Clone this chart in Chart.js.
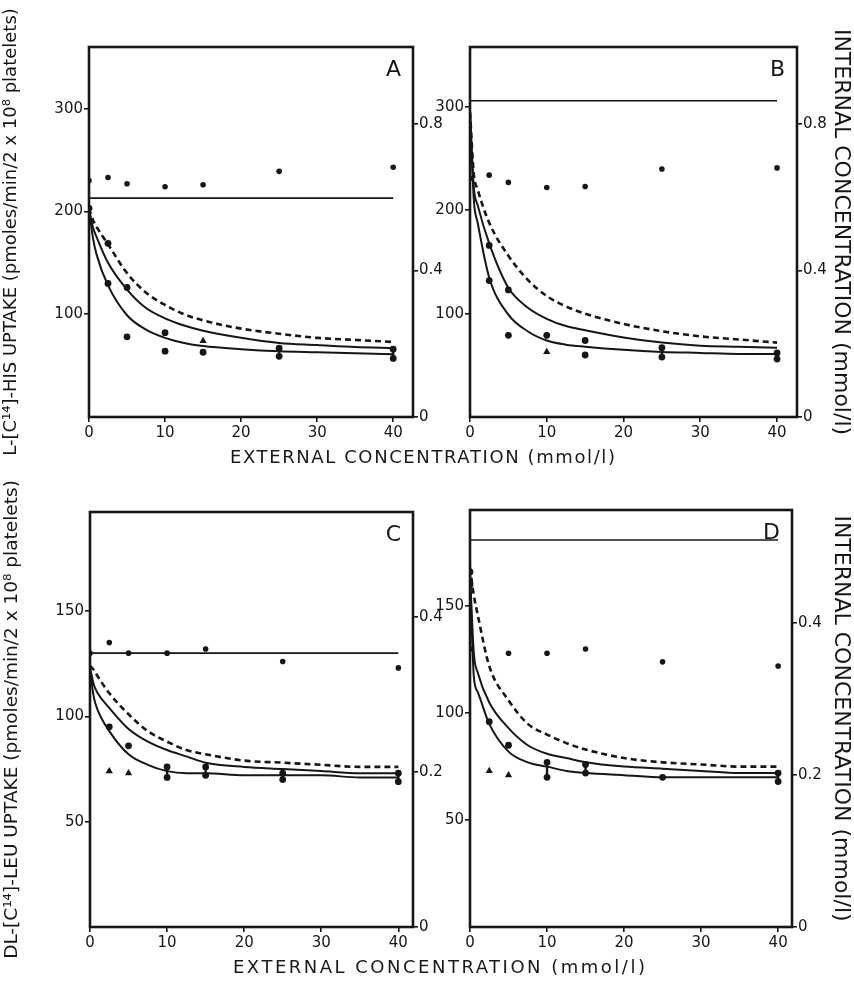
<!DOCTYPE html>
<html><head><meta charset="utf-8">
<script src="https://cdn.jsdelivr.net/npm/chart.js@4.4.0/dist/chart.umd.min.js"></script>
<style>
html,body{margin:0;padding:0;background:#fff;}
body{width:854px;height:998px;position:relative;overflow:hidden;font-family:"DejaVu Sans",sans-serif;}
canvas{position:absolute;}
.xt{position:absolute;font-family:"DejaVu Sans",sans-serif;font-size:18px;color:#1a1a1a;white-space:nowrap;}
</style></head><body>
<canvas id="cA" width="460" height="470" style="left:0;top:0"></canvas>
<canvas id="cB" width="424" height="470" style="left:430px;top:0"></canvas>
<canvas id="cC" width="460" height="518" style="left:0;top:480px"></canvas>
<canvas id="cD" width="424" height="518" style="left:430px;top:480px"></canvas>
<div class="xt" id="xtTop" style="left:230px;top:446px;letter-spacing:1.6px">EXTERNAL CONCENTRATION (mmol/l)</div>
<div class="xt" id="xtBot" style="left:233px;top:956px;letter-spacing:2.5px">EXTERNAL CONCENTRATION (mmol/l)</div>
<script>
// ---------- data ----------
const curveX = [0, 0.5, 1, 2.5, 5, 7.5, 10, 12.5, 15, 20, 25, 30, 35, 40];
const xTicks = [0, 10, 20, 30, 40];
const lineX = [0, 40];

// Panel A: L-[14C]-HIS
const yTicksA = [100, 200, 300];
const y1TicksA = [0, 0.4, 0.8];
const hLineA = 213;
const upperAX = [0, 2.5, 5, 10, 15, 25, 40];
const upperAY = [230, 233, 227, 224, 226, 239, 243];
const dashA = [203, 192, 185, 168, 140, 121, 109, 100, 94, 86, 81, 77, 75, 73];
const midA  = [203, 185, 175, 150, 124, 106, 96, 89, 84, 77, 72, 70, 68, 67];
const lowA  = [203, 175, 158, 128, 99, 85, 77, 72, 69, 66, 64, 63, 62, 61];
const dotsAX = [0, 2.5, 2.5, 5, 5, 10, 10, 15, 25, 25, 40, 40];
const dotsAY = [203, 169, 130, 126, 78, 82, 64, 63, 67, 59, 66, 57];
const triAX = [15];
const triAY = [74];
const barsA = [[25, 59, 67], [40, 57, 66]];

// Panel B
const yTicksB = [100, 200, 300];
const y1TicksB = [0, 0.4, 0.8];
const hLineB = 306;
const upperBX = [0, 2.5, 5, 10, 15, 25, 40];
const upperBY = [231, 234, 227, 222, 223, 240, 241];
const dashB = [295, 235, 220, 188, 156, 133, 117, 107, 100, 90, 83, 78, 75, 72];
const midB  = [295, 222, 205, 168, 125, 106, 95, 88, 84, 77, 72, 69, 68, 67];
const lowB  = [295, 210, 188, 135, 99, 83, 74, 70, 68, 65, 63, 62, 61, 61];
const dotsBX = [2.5, 2.5, 5, 5, 10, 15, 15, 25, 25, 40, 40];
const dotsBY = [166, 132, 123, 79, 79, 74, 60, 67, 58, 62, 56];
const triBX = [10];
const triBY = [63];
const barsB = [[10, 76, 82], [25, 58, 67], [40, 56, 62]];

// Panel C: DL-[14C]-LEU
const yTicksC = [50, 100, 150];
const y1TicksC = [0, 0.2, 0.4];
const hLineC = 130;
const upperCX = [0, 2.5, 5, 10, 15, 25, 40];
const upperCY = [130, 135, 130, 130, 132, 126, 123];
const dashC = [124, 122, 119, 111, 101, 93, 88, 84, 82, 79, 78, 77, 76, 76];
const midC  = [123, 115, 111, 104, 94, 88, 84, 81, 78, 76, 75, 74, 73, 73];
const lowC  = [122, 109, 103, 93, 82, 77, 74, 73, 73, 72, 72, 72, 71, 71];
const dotsCX = [2.5, 5, 10, 10, 15, 15, 25, 25, 40, 40];
const dotsCY = [95, 86, 76, 71, 76, 72, 73, 70, 73, 69];
const triCX = [2.5, 5];
const triCY = [74, 73];
const barsC = [[10, 70, 77], [15, 71, 76], [25, 69, 73], [40, 68, 73]];

// Panel D
const yTicksD = [50, 100, 150];
const y1TicksD = [0, 0.2, 0.4];
const hLineD = 181;
const upperDX = [0, 5, 10, 15, 25, 40];
const upperDY = [130, 128, 128, 130, 124, 122];
const dashD = [168, 155, 146, 122, 106, 95, 90, 86, 83, 79, 77, 76, 75, 75];
const midD  = [165, 128, 119, 105, 93, 85, 81, 79, 77, 75, 74, 73, 72, 72];
const lowD  = [165, 117, 110, 95, 82, 77, 75, 73, 72, 71, 70, 70, 70, 70];
const dotsDX = [0, 0, 2.5, 5, 10, 10, 15, 15, 25, 40, 40];
const dotsDY = [166, 160, 96, 85, 77, 70, 76, 72, 70, 72, 68];
const triDX = [2.5, 5];
const triDY = [73, 71];
const barsD = [[10, 70, 77], [15, 72, 77], [40, 68, 72]];

const titleHis = 'L-[C¹⁴]-HIS UPTAKE (pmoles/min/2 x 10⁸ platelets)';
const titleLeu = 'DL-[C¹⁴]-LEU UPTAKE (pmoles/min/2 x 10⁸ platelets)';
const titleInt = 'INTERNAL CONCENTRATION (mmol/l)';

// ---------- drawing ----------
const INK = '#161616';
const FONT = '"DejaVu Sans", sans-serif';

const boxPlugin = {
  id: 'box',
  afterDraw(chart, args, opts) {
    const { ctx, chartArea: a } = chart;
    ctx.save();
    ctx.lineWidth = 2.6;
    ctx.strokeStyle = INK;
    ctx.strokeRect(a.left, a.top, a.right - a.left, a.bottom - a.top);
    ctx.font = '22px ' + FONT;
    ctx.fillStyle = INK;
    ctx.textAlign = 'right';
    ctx.textBaseline = 'top';
    ctx.fillText(opts.letter, a.right - opts.lx, a.top + opts.ly);
    ctx.restore();
  }
};

function pts(xs, ys) { return xs.map((x, i) => ({ x: x, y: ys[i] })); }

function panel(p) {
  const ds = [];
  ds.push({ data: pts(lineX, [p.hLine, p.hLine]), borderColor: INK, borderWidth: 1.6, pointRadius: 0, showLine: true });
  ds.push({ data: pts(curveX, p.dash), borderColor: INK, borderWidth: 2.6, borderDash: [6, 4], pointRadius: 0, showLine: true, cubicInterpolationMode: 'monotone' });
  ds.push({ data: pts(curveX, p.mid), borderColor: INK, borderWidth: 2, pointRadius: 0, showLine: true, cubicInterpolationMode: 'monotone' });
  ds.push({ data: pts(curveX, p.low), borderColor: INK, borderWidth: 2, pointRadius: 0, showLine: true, cubicInterpolationMode: 'monotone' });
  ds.push({ data: pts(p.upX, p.upY), showLine: false, pointRadius: 2.8, pointBackgroundColor: INK, pointBorderColor: INK, pointBorderWidth: 0 });
  ds.push({ data: pts(p.dX, p.dY), showLine: false, pointRadius: 3.4, pointBackgroundColor: INK, pointBorderColor: INK, pointBorderWidth: 0 });
  ds.push({ data: pts(p.tX, p.tY), showLine: false, pointStyle: 'triangle', pointRadius: 4.2, pointBackgroundColor: INK, pointBorderColor: INK, pointBorderWidth: 0 });
  p.bars.forEach(b => {
    ds.push({ data: [{ x: b[0], y: b[1] }, { x: b[0], y: b[2] }], borderColor: INK, borderWidth: 2.4, pointRadius: 0, showLine: true });
  });
  const tickFont = { family: FONT, size: 15 };
  const gridOpt = { display: true, drawOnChartArea: false, drawTicks: true, tickLength: 5, color: INK, lineWidth: 1.6 };
  new Chart(document.getElementById(p.id), {
    type: 'line',
    data: { datasets: ds },
    options: {
      responsive: false,
      animation: false,
      events: [],
      layout: { padding: { top: p.padT, left: 0, right: 0, bottom: 0 } },
      plugins: { legend: { display: false }, tooltip: { enabled: false }, box: { letter: p.letter, lx: p.lx, ly: p.ly } },
      scales: {
        x: {
          type: 'linear', min: 0, max: p.xMax,
          afterBuildTicks: s => { s.ticks = xTicks.map(v => ({ value: v })); },
          afterFit: s => { s.height = p.xH; },
          ticks: { color: INK, font: tickFont, padding: 2, maxRotation: 0, autoSkip: false },
          grid: gridOpt, border: { display: false }
        },
        y: {
          type: 'linear', position: 'left', min: 0, max: p.yMax,
          afterBuildTicks: s => { s.ticks = p.yTicks.map(v => ({ value: v })); },
          afterFit: s => { s.width = p.yW; },
          ticks: { color: INK, font: tickFont, padding: 1 },
          grid: gridOpt, border: { display: false },
          title: { display: !!p.yTitle, text: p.yTitle || '', color: INK, font: { family: FONT, size: p.yTitleSize || 18 }, padding: { top: 1, bottom: 0 } }
        },
        y1: {
          type: 'linear', position: 'right', min: 0, max: p.y1Max,
          afterBuildTicks: s => { s.ticks = p.y1Ticks.map(v => ({ value: v })); },
          afterFit: s => { s.width = p.y1W; },
          ticks: { color: INK, font: tickFont, padding: 1, callback: v => String(v) },
          grid: gridOpt, border: { display: false },
          title: { display: !!p.y1Title, text: p.y1Title || '', color: INK, font: { family: FONT, size: 22 }, padding: { top: 0, bottom: 0 } }
        }
      }
    },
    plugins: [boxPlugin]
  });
}

panel({ id: 'cA', letter: 'A', lx: 12, ly: 12, padT: 47, yW: 89, y1W: 47, xH: 53, xMax: 42.6, yMax: 360, y1Max: 1.01,
  yTicks: yTicksA, y1Ticks: y1TicksA, yTitle: titleHis, y1Title: null, yTitleSize: 18,
  hLine: hLineA, dash: dashA, mid: midA, low: lowA, upX: upperAX, upY: upperAY, dX: dotsAX, dY: dotsAY, tX: triAX, tY: triAY, bars: barsA });
panel({ id: 'cB', letter: 'B', lx: 12, ly: 12, padT: 47, yW: 40, y1W: 57, xH: 53, xMax: 42.6, yMax: 358, y1Max: 1.01,
  yTicks: yTicksB, y1Ticks: y1TicksB, yTitle: null, y1Title: titleInt,
  hLine: hLineB, dash: dashB, mid: midB, low: lowB, upX: upperBX, upY: upperBY, dX: dotsBX, dY: dotsBY, tX: triBX, tY: triBY, bars: barsB });
panel({ id: 'cC', letter: 'C', lx: 12, ly: 12, padT: 32, yW: 90, y1W: 47, xH: 71, xMax: 41.9, yMax: 197, y1Max: 0.535,
  yTicks: yTicksC, y1Ticks: y1TicksC, yTitle: titleLeu, y1Title: null, yTitleSize: 18.5,
  hLine: hLineC, dash: dashC, mid: midC, low: lowC, upX: upperCX, upY: upperCY, dX: dotsCX, dY: dotsCY, tX: triCX, tY: triCY, bars: barsC });
panel({ id: 'cD', letter: 'D', lx: 12, ly: 12, padT: 30, yW: 40, y1W: 62, xH: 71, xMax: 41.8, yMax: 195, y1Max: 0.549,
  yTicks: yTicksD, y1Ticks: y1TicksD, yTitle: null, y1Title: titleInt,
  hLine: hLineD, dash: dashD, mid: midD, low: lowD, upX: upperDX, upY: upperDY, dX: dotsDX, dY: dotsDY, tX: triDX, tY: triDY, bars: barsD });
</script>
</body></html>
